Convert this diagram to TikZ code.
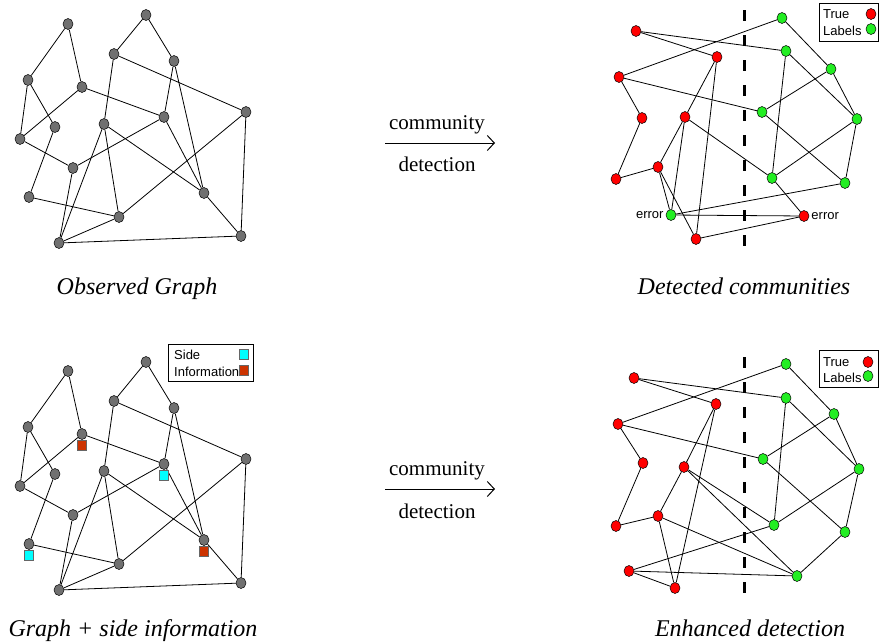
\documentclass[tikz,border=0pt]{standalone}
\usepackage{fontspec}
\setmainfont{Liberation Serif}
\setsansfont{Liberation Sans}
\usetikzlibrary{shapes.geometric}
\usetikzlibrary{positioning}
\usetikzlibrary{arrows.meta}

\definecolor{nodegray}{HTML}{707070}
\definecolor{truered}{HTML}{FF0000}
\definecolor{truegreen}{HTML}{22EE22}
\definecolor{sidecyan}{HTML}{00FFFF}
\definecolor{sidered}{HTML}{CC3300}

\begin{document}
\begin{tikzpicture}[x=1pt,y=-1pt,
  vtx/.style={ellipse,draw=black,line width=0.5pt,inner sep=0pt,minimum width=10pt,minimum height=11pt},
  obs/.style={vtx,fill=nodegray},
  red/.style={vtx,fill=truered},
  green/.style={vtx,fill=truegreen},
  sidebox/.style={rectangle,draw=black!60,line width=0.5pt,inner sep=0pt,minimum width=9pt,minimum height=10pt},
  edge/.style={line width=0.8pt},
  split/.style={line width=3pt,dash pattern=on 11pt off 14pt},
  legtext/.style={font=\sffamily\fontsize{13}{15}\selectfont,inner sep=0pt},
  caption/.style={font=\itshape\fontsize{24}{28}\selectfont,anchor=base},
  step label/.style={font=\fontsize{21}{24}\selectfont},
  step arrow/.style={line width=0.8pt,-{Straight Barb[length=7pt,width=15pt,line width=1pt]}}]
\useasboundingbox (0,0) rectangle (879,643);

% observed graph
\foreach \n/\x/\y in {A/68/24,B/146/15,C/114/54,D/174/61,E/28/80,F/82/87,G/246/112,H/164/117,I/55/127,J/104/124,K/20/139,L/73/168,M/29/197,N/204/193,O/119/217,P/59/243,Q/241/236}
  \node[obs] (o\n) at (\x,\y) {};
\foreach \u/\v in {A/E,A/F,B/C,B/D,C/J,C/G,D/H,D/N,E/K,E/I,F/K,F/H,I/M,J/P,J/O,J/N,K/L,L/H,L/P,M/O,O/G,P/O,P/Q,G/Q,N/Q,H/N}
  \draw[edge] (o\u) -- (o\v);
\node[caption] (cap1) at (137,294) {Observed Graph};

% graph with side information
\foreach \n/\x/\y in {A/68/371,B/146/362,C/114/401,D/174/408,E/28/427,F/82/434,G/246/459,H/164/464,I/55/474,J/104/471,K/20/486,L/73/515,M/29/544,N/204/540,O/119/564,P/59/590,Q/241/583}
  \node[obs] (s\n) at (\x,\y) {};
\foreach \u/\v in {A/E,A/F,B/C,B/D,C/J,C/G,D/H,D/N,E/K,E/I,F/K,F/H,I/M,J/P,J/O,J/N,K/L,L/H,L/P,M/O,O/G,P/O,P/Q,G/Q,N/Q,H/N}
  \draw[edge] (s\u) -- (s\v);
\node[sidebox,fill=sidered,below=0pt of sF] (infoF) {};
\node[sidebox,fill=sidecyan,below=0pt of sH] (infoH) {};
\node[sidebox,fill=sidecyan,below=0pt of sM] (infoM) {};
\node[sidebox,fill=sidered,below=0pt of sN] (infoN) {};
\draw[line width=0.8pt] (168,344) rectangle (253,381);
\node[legtext,anchor=west] (sidetxt) at (174,355) {Side};
\node[legtext,anchor=west] (infotxt) at (174,372) {Information};
\node[sidebox,fill=sidecyan] (keycyan) at (244,354) {};
\node[sidebox,fill=sidered] (keyred) at (244,370) {};
\node[caption] (cap3) at (133,636) {Graph + side information};

% community detection arrows
\node[step label] (com1) at (437,125) {community};
\node[step label] (det1) at (437,164) {detection};
\coordinate (from1) at (385,143);
\coordinate (to1) at (495,143);
\draw[step arrow] (from1) -- (to1);
\node[step label] (com2) at (437,471) {community};
\node[step label] (det2) at (437,511) {detection};
\coordinate (from2) at (385,489);
\coordinate (to2) at (495,489);
\draw[step arrow] (from2) -- (to2);

% detected communities
\foreach \n/\x/\y in {r1/636/31,r2/717/57,r3/619/77,r4/642/118,r5/685/117,r6/616/179,r7/658/167,r8/696/239,e2/804/216}
  \node[red] (d\n) at (\x,\y) {};
\foreach \n/\x/\y in {g1/782/18,g2/786/51,g3/831/69,g4/762/112,g5/857/119,g6/772/178,g7/845/183,e1/671/215}
  \node[green] (d\n) at (\x,\y) {};
\foreach \u/\v in {r1/r2,r1/g2,r3/g1,r3/g4,r3/r4,r4/r6,r6/r7,r7/r5,r5/r2,r5/g6,r7/e1,r7/r8,r5/e1,r2/r8,e1/g7,e1/e2,r8/e2,g6/e2,g1/g3,g3/g4,g3/g5,g2/g6,g2/g5,g4/g7,g5/g6,g5/g7}
  \draw[edge] (d\u) -- (d\v);
\node[legtext,left=2pt of de1] (err1) {error};
\node[legtext,right=2pt of de2] (err2) {error};
\coordinate (cut1) at (744,10);
\coordinate (cut2) at (744,248);
\draw[split] (cut1) -- (cut2);
\draw[line width=0.8pt] (819,3) rectangle (878,41);
\node[legtext,anchor=west] (truetxt1) at (823,14) {True};
\node[legtext,anchor=west] (labtxt1) at (823,31) {Labels};
\node[red] (keyr1) at (871,14) {};
\node[green] (keyg1) at (871,29) {};
\node[caption] (cap2) at (744,294) {Detected communities};

% enhanced detection
\foreach \n/\x/\y in {r1/634/378,r2/716/404,r3/618/424,r4/643/463,r5/684/467,r6/616/526,r7/658/516,r8/629/571,r9/675/588}
  \node[red] (h\n) at (\x,\y) {};
\foreach \n/\x/\y in {g1/786/364,g2/786/398,g3/834/414,g4/763/459,g5/859/469,g6/774/525,g7/845/532,g8/797/576}
  \node[green] (h\n) at (\x,\y) {};
\foreach \u/\v in {r1/r2,r1/g2,r3/g1,r3/g4,r3/r4,r4/r6,r6/r7,r7/r5,r5/r2,r5/g6,r5/g8,r7/g8,r7/r9,r2/r9,r8/g6,r8/g8,r8/r9,g1/g3,g3/g4,g3/g5,g2/g6,g2/g5,g4/g7,g5/g6,g5/g7,g7/g8}
  \draw[edge] (h\u) -- (h\v);
\coordinate (cut3) at (744,357);
\coordinate (cut4) at (744,597);
\draw[split] (cut3) -- (cut4);
\draw[line width=0.8pt] (819,350) rectangle (878,387);
\node[legtext,anchor=west] (truetxt2) at (823,362) {True};
\node[legtext,anchor=west] (labtxt2) at (823,378) {Labels};
\node[red] (keyr2) at (868,362) {};
\node[green] (keyg2) at (868,376) {};
\node[caption] (cap4) at (750,636) {Enhanced detection};

\end{tikzpicture}
\end{document}
